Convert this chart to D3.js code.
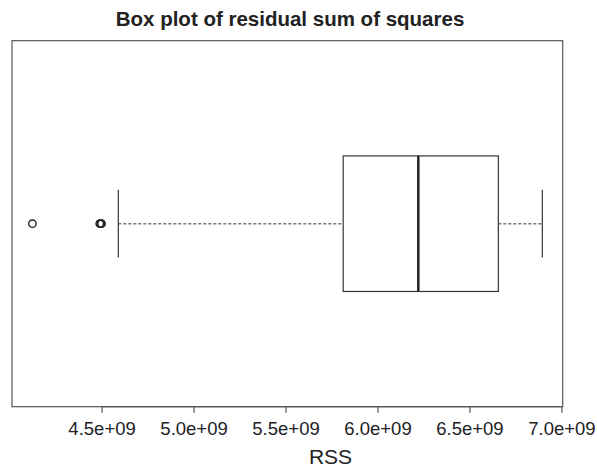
<!DOCTYPE html>
<html>
<head>
<meta charset="utf-8">
<script src="https://cdn.jsdelivr.net/npm/d3@7"></script>
<style>
  html, body { margin: 0; padding: 0; background: #fff; }
  svg { display: block; font-family: "Liberation Sans", Arial, Helvetica, sans-serif; }
</style>
</head>
<body>
<svg id="chart" width="597" height="467"></svg>
<script>
// Summary of the residual sum of squares (RSS) distribution
const boxStats = [5.8135e9, 6.222e9, 6.657e9];      // lower hinge, median, upper hinge
const whiskerEnds = [4.591e9, 6.896e9];             // lower and upper whisker ends
const outliers = [4.124e9, 4.490e9, 4.496e9, 4.500e9];
const tickValues = [4.5e9, 5.0e9, 5.5e9, 6.0e9, 6.5e9, 7.0e9];
const tickLabels = ["4.5e+09", "5.0e+09", "5.5e+09", "6.0e+09", "6.5e+09", "7.0e+09"];
const titleText = "Box plot of residual sum of squares";
const axisTitle = "RSS";

const svg = d3.select("#chart");
const plot = { left: 12, right: 562.7, top: 40.7, bottom: 406.7 };

// 4% padding around the data range
const dataMin = d3.min([...outliers, whiskerEnds[0]]);
const dataMax = d3.max([...outliers, whiskerEnds[1]]);
const pad = (dataMax - dataMin) * 0.04;
const x = d3.scaleLinear()
  .domain([dataMin - pad, dataMax + pad])
  .range([plot.left, plot.right]);

// single group placed at y = 1 on a [0.5,1.5] range extended by 4%
const y = d3.scaleLinear()
  .domain([0.5 - 0.04, 1.5 + 0.04])
  .range([plot.bottom, plot.top]);

const stroke = "#333";
const font = "\"Liberation Sans\", Arial, Helvetica, sans-serif";

// title
svg.append("text")
  .attr("x", 290).attr("y", 26)
  .attr("text-anchor", "middle")
  .attr("font-weight", "bold")
  .attr("font-size", 20.5)
  .attr("fill", "#222")
  .text(titleText);

// frame
svg.append("rect")
  .attr("x", plot.left).attr("y", plot.top)
  .attr("width", plot.right - plot.left)
  .attr("height", plot.bottom - plot.top)
  .attr("fill", "none")
  .attr("stroke", "#555")
  .attr("stroke-width", 1.2);

// x axis
const axis = d3.axisBottom(x)
  .tickValues(tickValues)
  .tickFormat((d, i) => tickLabels[i])
  .tickSize(6)
  .tickSizeOuter(0);
const gx = svg.append("g")
  .attr("transform", `translate(0,${plot.bottom})`)
  .call(axis);
gx.select(".domain")
  .attr("d", `M${x(tickValues[0])},0H${x(tickValues[tickValues.length - 1])}`)
  .attr("stroke", "#555").attr("stroke-width", 1.2);
gx.selectAll(".tick line").attr("stroke", "#555").attr("stroke-width", 1.2);
gx.selectAll(".tick text")
  .attr("y", 28).attr("dy", 0)
  .attr("font-size", 18.5)
  .attr("font-family", font)
  .attr("fill", "#222");

svg.append("text")
  .attr("x", x((tickValues[0] + tickValues[tickValues.length - 1]) / 2) - 1)
  .attr("y", 464)
  .attr("text-anchor", "middle")
  .attr("font-size", 21)
  .attr("fill", "#222")
  .text(axisTitle);

// whiskers (dotted)
const yc = y(1);
[[whiskerEnds[0], boxStats[0]], [boxStats[2], whiskerEnds[1]]].forEach(([a, b]) => {
  svg.append("line")
    .attr("x1", x(a)).attr("x2", x(b))
    .attr("y1", yc).attr("y2", yc)
    .attr("stroke", "#777").attr("stroke-width", 1.4)
    .attr("stroke-dasharray", "3,2");
});

// whisker caps
const capHalf = 0.1;
svg.selectAll("line.cap")
  .data(whiskerEnds)
  .join("line")
  .attr("class", "cap")
  .attr("x1", d => x(d)).attr("x2", d => x(d))
  .attr("y1", y(1 + capHalf)).attr("y2", y(1 - capHalf))
  .attr("stroke", stroke).attr("stroke-width", 1.2);

// box
const boxHalf = 0.2;
svg.append("rect")
  .attr("x", x(boxStats[0]))
  .attr("y", y(1 + boxHalf))
  .attr("width", x(boxStats[2]) - x(boxStats[0]))
  .attr("height", y(1 - boxHalf) - y(1 + boxHalf))
  .attr("fill", "#fff")
  .attr("stroke", stroke)
  .attr("stroke-width", 1.2);

// median
svg.append("line")
  .attr("x1", x(boxStats[1])).attr("x2", x(boxStats[1]))
  .attr("y1", y(1 + boxHalf)).attr("y2", y(1 - boxHalf))
  .attr("stroke", "#222").attr("stroke-width", 2.5);

// outliers
svg.selectAll("circle.out")
  .data(outliers)
  .join("circle")
  .attr("class", "out")
  .attr("cx", d => x(d)).attr("cy", yc)
  .attr("r", 3.7)
  .attr("fill", "none")
  .attr("stroke", "#222")
  .attr("stroke-width", 1.4);
</script>
</body>
</html>
